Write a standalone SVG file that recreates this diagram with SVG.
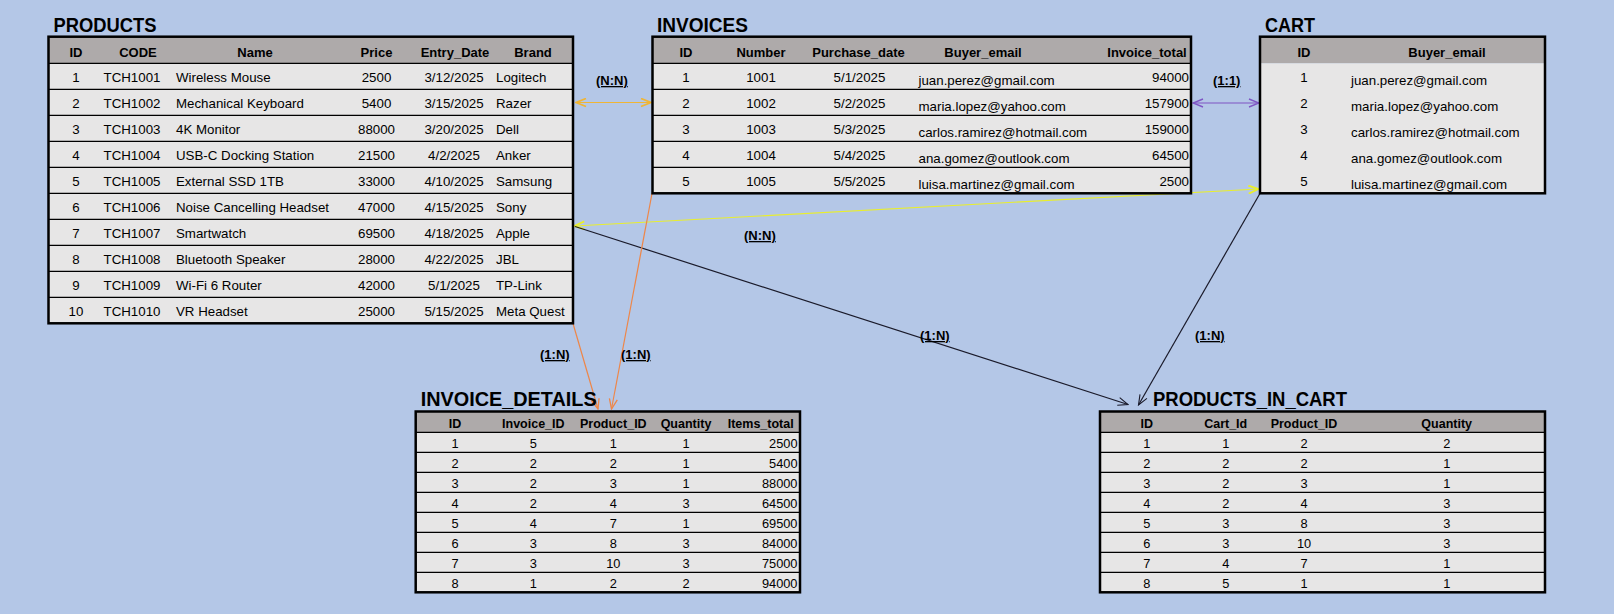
<svg xmlns="http://www.w3.org/2000/svg" width="1614" height="614" viewBox="0 0 1614 614">
<defs>
<style>
.title{font-family:"Liberation Sans",Arial,sans-serif;font-weight:bold;font-size:20px;fill:#000}
.hd{fill:#AEAAAA}
.bd{fill:#E7E6E6}
.frame{fill:none;stroke:#000;stroke-width:2.5}
.rl{stroke:#000;stroke-width:1.3}
.h{font-family:"Liberation Sans",Arial,sans-serif;font-weight:bold;font-size:13px;fill:#000;text-anchor:middle}
.d{font-family:"Liberation Sans",Arial,sans-serif;font-size:13.3px;fill:#000}
.h2{font-family:"Liberation Sans",Arial,sans-serif;font-weight:bold;font-size:12.5px;fill:#000;text-anchor:middle}
.d2{font-family:"Liberation Sans",Arial,sans-serif;font-size:12.8px;fill:#000}
.c{text-anchor:middle}
.r{text-anchor:end}
.lbl{font-family:"Liberation Sans",Arial,sans-serif;font-weight:bold;font-size:13px;fill:#000;text-decoration:underline}
.ln{fill:none;stroke-width:1.2}
</style>
<marker id="mGold" viewBox="-1 -1 12 10" markerWidth="12" markerHeight="10" refX="10" refY="4" markerUnits="userSpaceOnUse" orient="auto-start-reverse"><path d="M0,0 L10,4 L0,8" fill="none" stroke="#EFB536" stroke-width="1.8"/></marker>
<marker id="mPurple" viewBox="-1 -1 12 10" markerWidth="12" markerHeight="10" refX="10" refY="4" markerUnits="userSpaceOnUse" orient="auto-start-reverse"><path d="M0,0 L10,4 L0,8" fill="none" stroke="#7E55C4" stroke-width="1.4"/></marker>
<marker id="mYellow" viewBox="-1 -1 12 10" markerWidth="12" markerHeight="10" refX="10" refY="4" markerUnits="userSpaceOnUse" orient="auto-start-reverse"><path d="M0,0 L10,4 L0,8" fill="none" stroke="#E9EE2E" stroke-width="1.9"/></marker>
<marker id="mBlack" viewBox="-1 -1 12 10" markerWidth="12" markerHeight="10" refX="10" refY="4" markerUnits="userSpaceOnUse" orient="auto"><path d="M0,0 L10,4 L0,8" fill="none" stroke="#1a1a2a" stroke-width="1.1"/></marker>
<marker id="mOrange" viewBox="-1 -1 12 10" markerWidth="12" markerHeight="10" refX="10" refY="4" markerUnits="userSpaceOnUse" orient="auto"><path d="M0,0 L10,4 L0,8" fill="none" stroke="#EE8648" stroke-width="1.3"/></marker>
</defs>
<rect x="0" y="0" width="1614" height="614" fill="#B4C7E7"/>

<g id="connectors">
<line class="ln" x1="576" y1="102.5" x2="651" y2="102.5" stroke="#EFB536" stroke-width="2" marker-start="url(#mGold)" marker-end="url(#mGold)"/>
<line class="ln" x1="1193" y1="103" x2="1259" y2="103" stroke="#7E55C4" stroke-width="1.4" marker-start="url(#mPurple)" marker-end="url(#mPurple)"/>
<line class="ln" x1="574.5" y1="226" x2="1258.5" y2="189" stroke="#E9EE2E" stroke-width="2" marker-start="url(#mYellow)" marker-end="url(#mYellow)"/>
<line class="ln" x1="575" y1="226.5" x2="1128" y2="404.5" stroke="#1a1a2a" stroke-width="1" marker-end="url(#mBlack)"/>
<line class="ln" x1="1260.5" y1="192.5" x2="1138.5" y2="405" stroke="#1a1a2a" stroke-width="1" marker-end="url(#mBlack)"/>
<line class="ln" x1="573" y1="323.5" x2="598" y2="409" stroke="#EE8648" stroke-width="1.3" marker-end="url(#mOrange)"/>
<line class="ln" x1="652" y1="193.5" x2="611.5" y2="409" stroke="#EE8648" stroke-width="1.3" marker-end="url(#mOrange)"/>
<text class="lbl" x="596" y="85">(N:N)</text>
<text class="lbl" x="1213" y="85">(1:1)</text>
<text class="lbl" x="744" y="240">(N:N)</text>
<text class="lbl" x="920" y="340">(1:N)</text>
<text class="lbl" x="1195" y="340">(1:N)</text>
<text class="lbl" x="540" y="359">(1:N)</text>
<text class="lbl" x="621" y="359">(1:N)</text>
</g>

<g id="products">
<text class="title" x="53.5" y="31.5" textLength="103" lengthAdjust="spacingAndGlyphs">PRODUCTS</text>
<rect class="hd" x="48.5" y="36.7" width="524.5" height="26.6"/>
<rect class="bd" x="48.5" y="63.3" width="524.5" height="260"/>
<g>
<line class="rl" x1="48.5" y1="63.3" x2="573" y2="63.3"/>
<line class="rl" x1="48.5" y1="89.3" x2="573" y2="89.3"/>
<line class="rl" x1="48.5" y1="115.3" x2="573" y2="115.3"/>
<line class="rl" x1="48.5" y1="141.3" x2="573" y2="141.3"/>
<line class="rl" x1="48.5" y1="167.3" x2="573" y2="167.3"/>
<line class="rl" x1="48.5" y1="193.3" x2="573" y2="193.3"/>
<line class="rl" x1="48.5" y1="219.3" x2="573" y2="219.3"/>
<line class="rl" x1="48.5" y1="245.3" x2="573" y2="245.3"/>
<line class="rl" x1="48.5" y1="271.3" x2="573" y2="271.3"/>
<line class="rl" x1="48.5" y1="297.3" x2="573" y2="297.3"/>
</g>
<rect class="frame" x="48.5" y="36.7" width="524.5" height="286.6"/>
<text class="h" x="76" y="56.5">ID</text>
<text class="h" x="138" y="56.5">CODE</text>
<text class="h" x="255" y="56.5">Name</text>
<text class="h" x="376.5" y="56.5">Price</text>
<text class="h" x="455" y="56.5">Entry_Date</text>
<text class="h" x="533" y="56.5">Brand</text>
<g class="d">
<text class="c" x="76" y="82.3">1</text><text class="c" x="132" y="82.3">TCH1001</text><text x="176" y="82.3">Wireless Mouse</text><text class="c" x="376.5" y="82.3">2500</text><text class="c" x="454" y="82.3">3/12/2025</text><text x="496" y="82.3">Logitech</text>
<text class="c" x="76" y="108.3">2</text><text class="c" x="132" y="108.3">TCH1002</text><text x="176" y="108.3">Mechanical Keyboard</text><text class="c" x="376.5" y="108.3">5400</text><text class="c" x="454" y="108.3">3/15/2025</text><text x="496" y="108.3">Razer</text>
<text class="c" x="76" y="134.3">3</text><text class="c" x="132" y="134.3">TCH1003</text><text x="176" y="134.3">4K Monitor</text><text class="c" x="376.5" y="134.3">88000</text><text class="c" x="454" y="134.3">3/20/2025</text><text x="496" y="134.3">Dell</text>
<text class="c" x="76" y="160.3">4</text><text class="c" x="132" y="160.3">TCH1004</text><text x="176" y="160.3">USB-C Docking Station</text><text class="c" x="376.5" y="160.3">21500</text><text class="c" x="454" y="160.3">4/2/2025</text><text x="496" y="160.3">Anker</text>
<text class="c" x="76" y="186.3">5</text><text class="c" x="132" y="186.3">TCH1005</text><text x="176" y="186.3">External SSD 1TB</text><text class="c" x="376.5" y="186.3">33000</text><text class="c" x="454" y="186.3">4/10/2025</text><text x="496" y="186.3">Samsung</text>
<text class="c" x="76" y="212.3">6</text><text class="c" x="132" y="212.3">TCH1006</text><text x="176" y="212.3">Noise Cancelling Headset</text><text class="c" x="376.5" y="212.3">47000</text><text class="c" x="454" y="212.3">4/15/2025</text><text x="496" y="212.3">Sony</text>
<text class="c" x="76" y="238.3">7</text><text class="c" x="132" y="238.3">TCH1007</text><text x="176" y="238.3">Smartwatch</text><text class="c" x="376.5" y="238.3">69500</text><text class="c" x="454" y="238.3">4/18/2025</text><text x="496" y="238.3">Apple</text>
<text class="c" x="76" y="264.3">8</text><text class="c" x="132" y="264.3">TCH1008</text><text x="176" y="264.3">Bluetooth Speaker</text><text class="c" x="376.5" y="264.3">28000</text><text class="c" x="454" y="264.3">4/22/2025</text><text x="496" y="264.3">JBL</text>
<text class="c" x="76" y="290.3">9</text><text class="c" x="132" y="290.3">TCH1009</text><text x="176" y="290.3">Wi-Fi 6 Router</text><text class="c" x="376.5" y="290.3">42000</text><text class="c" x="454" y="290.3">5/1/2025</text><text x="496" y="290.3">TP-Link</text>
<text class="c" x="76" y="316.3">10</text><text class="c" x="132" y="316.3">TCH1010</text><text x="176" y="316.3">VR Headset</text><text class="c" x="376.5" y="316.3">25000</text><text class="c" x="454" y="316.3">5/15/2025</text><text x="496" y="316.3">Meta Quest</text>
</g>
</g>

<g id="invoices">
<text class="title" x="657" y="31.5" textLength="91" lengthAdjust="spacingAndGlyphs">INVOICES</text>
<rect class="hd" x="652.5" y="36.7" width="538.5" height="26.6"/>
<rect class="bd" x="652.5" y="63.3" width="538.5" height="130"/>
<line class="rl" x1="652.5" y1="63.3" x2="1191" y2="63.3"/>
<line class="rl" x1="652.5" y1="89.3" x2="1191" y2="89.3"/>
<line class="rl" x1="652.5" y1="115.3" x2="1191" y2="115.3"/>
<line class="rl" x1="652.5" y1="141.3" x2="1191" y2="141.3"/>
<line class="rl" x1="652.5" y1="167.3" x2="1191" y2="167.3"/>
<rect class="frame" x="652.5" y="36.7" width="538.5" height="156.6"/>
<text class="h" x="686" y="56.5">ID</text>
<text class="h" x="761" y="56.5">Number</text>
<text class="h" x="858.5" y="56.5">Purchase_date</text>
<text class="h" x="983" y="56.5">Buyer_email</text>
<text class="h" x="1147" y="56.5">Invoice_total</text>
<g class="d">
<text class="c" x="686" y="82.3">1</text><text class="c" x="761" y="82.3">1001</text><text class="c" x="859.5" y="82.3">5/1/2025</text><text x="918.5" y="84.8">juan.perez@gmail.com</text><text class="r" x="1189" y="82.3">94000</text>
<text class="c" x="686" y="108.3">2</text><text class="c" x="761" y="108.3">1002</text><text class="c" x="859.5" y="108.3">5/2/2025</text><text x="918.5" y="110.8">maria.lopez@yahoo.com</text><text class="r" x="1189" y="108.3">157900</text>
<text class="c" x="686" y="134.3">3</text><text class="c" x="761" y="134.3">1003</text><text class="c" x="859.5" y="134.3">5/3/2025</text><text x="918.5" y="136.8">carlos.ramirez@hotmail.com</text><text class="r" x="1189" y="134.3">159000</text>
<text class="c" x="686" y="160.3">4</text><text class="c" x="761" y="160.3">1004</text><text class="c" x="859.5" y="160.3">5/4/2025</text><text x="918.5" y="162.8">ana.gomez@outlook.com</text><text class="r" x="1189" y="160.3">64500</text>
<text class="c" x="686" y="186.3">5</text><text class="c" x="761" y="186.3">1005</text><text class="c" x="859.5" y="186.3">5/5/2025</text><text x="918.5" y="188.8">luisa.martinez@gmail.com</text><text class="r" x="1189" y="186.3">2500</text>
</g>
</g>

<g id="cart">
<text class="title" x="1265" y="31.5" textLength="50" lengthAdjust="spacingAndGlyphs">CART</text>
<rect class="hd" x="1260" y="36.7" width="285" height="26.6"/>
<rect class="bd" x="1260" y="63.3" width="285" height="130"/>
<rect class="frame" x="1260" y="36.7" width="285" height="156.6"/>
<text class="h" x="1304" y="56.5">ID</text>
<text class="h" x="1447" y="56.5">Buyer_email</text>
<g class="d">
<text class="c" x="1304" y="81.8">1</text><text x="1351" y="84.8">juan.perez@gmail.com</text>
<text class="c" x="1304" y="107.8">2</text><text x="1351" y="110.8">maria.lopez@yahoo.com</text>
<text class="c" x="1304" y="133.8">3</text><text x="1351" y="136.8">carlos.ramirez@hotmail.com</text>
<text class="c" x="1304" y="159.8">4</text><text x="1351" y="162.8">ana.gomez@outlook.com</text>
<text class="c" x="1304" y="185.8">5</text><text x="1351" y="188.8">luisa.martinez@gmail.com</text>
</g>
</g>

<g id="invoice_details">
<text class="title" x="420.7" y="406" textLength="176" lengthAdjust="spacingAndGlyphs">INVOICE_DETAILS</text>
<rect class="hd" x="415.7" y="411.5" width="384.3" height="20.8"/>
<rect class="bd" x="415.7" y="432.3" width="384.3" height="160"/>
<line class="rl" x1="415.7" y1="432.3" x2="800" y2="432.3"/>
<line class="rl" x1="415.7" y1="452.3" x2="800" y2="452.3"/>
<line class="rl" x1="415.7" y1="472.3" x2="800" y2="472.3"/>
<line class="rl" x1="415.7" y1="492.3" x2="800" y2="492.3"/>
<line class="rl" x1="415.7" y1="512.3" x2="800" y2="512.3"/>
<line class="rl" x1="415.7" y1="532.3" x2="800" y2="532.3"/>
<line class="rl" x1="415.7" y1="552.3" x2="800" y2="552.3"/>
<line class="rl" x1="415.7" y1="572.3" x2="800" y2="572.3"/>
<rect class="frame" x="415.7" y="411.5" width="384.3" height="180.8"/>
<text class="h2" x="455" y="428">ID</text>
<text class="h2" x="533.3" y="428">Invoice_ID</text>
<text class="h2" x="613.3" y="428">Product_ID</text>
<text class="h2" x="686" y="428">Quantity</text>
<text class="h2" x="760.7" y="428">Items_total</text>
<g class="d2">
<text class="c" x="455" y="447.8">1</text><text class="c" x="533.3" y="447.8">5</text><text class="c" x="613.3" y="447.8">1</text><text class="c" x="686" y="447.8">1</text><text class="r" x="797.5" y="447.8">2500</text>
<text class="c" x="455" y="467.8">2</text><text class="c" x="533.3" y="467.8">2</text><text class="c" x="613.3" y="467.8">2</text><text class="c" x="686" y="467.8">1</text><text class="r" x="797.5" y="467.8">5400</text>
<text class="c" x="455" y="487.8">3</text><text class="c" x="533.3" y="487.8">2</text><text class="c" x="613.3" y="487.8">3</text><text class="c" x="686" y="487.8">1</text><text class="r" x="797.5" y="487.8">88000</text>
<text class="c" x="455" y="507.8">4</text><text class="c" x="533.3" y="507.8">2</text><text class="c" x="613.3" y="507.8">4</text><text class="c" x="686" y="507.8">3</text><text class="r" x="797.5" y="507.8">64500</text>
<text class="c" x="455" y="527.8">5</text><text class="c" x="533.3" y="527.8">4</text><text class="c" x="613.3" y="527.8">7</text><text class="c" x="686" y="527.8">1</text><text class="r" x="797.5" y="527.8">69500</text>
<text class="c" x="455" y="547.8">6</text><text class="c" x="533.3" y="547.8">3</text><text class="c" x="613.3" y="547.8">8</text><text class="c" x="686" y="547.8">3</text><text class="r" x="797.5" y="547.8">84000</text>
<text class="c" x="455" y="567.8">7</text><text class="c" x="533.3" y="567.8">3</text><text class="c" x="613.3" y="567.8">10</text><text class="c" x="686" y="567.8">3</text><text class="r" x="797.5" y="567.8">75000</text>
<text class="c" x="455" y="587.8">8</text><text class="c" x="533.3" y="587.8">1</text><text class="c" x="613.3" y="587.8">2</text><text class="c" x="686" y="587.8">2</text><text class="r" x="797.5" y="587.8">94000</text>
</g>
</g>

<g id="products_in_cart">
<text class="title" x="1153" y="406" textLength="194" lengthAdjust="spacingAndGlyphs">PRODUCTS_IN_CART</text>
<rect class="hd" x="1100" y="411.5" width="445" height="20.8"/>
<rect class="bd" x="1100" y="432.3" width="445" height="160"/>
<line class="rl" x1="1100" y1="432.3" x2="1545" y2="432.3"/>
<line class="rl" x1="1100" y1="452.3" x2="1545" y2="452.3"/>
<line class="rl" x1="1100" y1="472.3" x2="1545" y2="472.3"/>
<line class="rl" x1="1100" y1="492.3" x2="1545" y2="492.3"/>
<line class="rl" x1="1100" y1="512.3" x2="1545" y2="512.3"/>
<line class="rl" x1="1100" y1="532.3" x2="1545" y2="532.3"/>
<line class="rl" x1="1100" y1="552.3" x2="1545" y2="552.3"/>
<line class="rl" x1="1100" y1="572.3" x2="1545" y2="572.3"/>
<rect class="frame" x="1100" y="411.5" width="445" height="180.8"/>
<text class="h2" x="1146.7" y="428">ID</text>
<text class="h2" x="1225.7" y="428">Cart_Id</text>
<text class="h2" x="1304" y="428">Product_ID</text>
<text class="h2" x="1446.7" y="428">Quantity</text>
<g class="d2">
<text class="c" x="1146.7" y="447.8">1</text><text class="c" x="1225.7" y="447.8">1</text><text class="c" x="1304" y="447.8">2</text><text class="c" x="1446.7" y="447.8">2</text>
<text class="c" x="1146.7" y="467.8">2</text><text class="c" x="1225.7" y="467.8">2</text><text class="c" x="1304" y="467.8">2</text><text class="c" x="1446.7" y="467.8">1</text>
<text class="c" x="1146.7" y="487.8">3</text><text class="c" x="1225.7" y="487.8">2</text><text class="c" x="1304" y="487.8">3</text><text class="c" x="1446.7" y="487.8">1</text>
<text class="c" x="1146.7" y="507.8">4</text><text class="c" x="1225.7" y="507.8">2</text><text class="c" x="1304" y="507.8">4</text><text class="c" x="1446.7" y="507.8">3</text>
<text class="c" x="1146.7" y="527.8">5</text><text class="c" x="1225.7" y="527.8">3</text><text class="c" x="1304" y="527.8">8</text><text class="c" x="1446.7" y="527.8">3</text>
<text class="c" x="1146.7" y="547.8">6</text><text class="c" x="1225.7" y="547.8">3</text><text class="c" x="1304" y="547.8">10</text><text class="c" x="1446.7" y="547.8">3</text>
<text class="c" x="1146.7" y="567.8">7</text><text class="c" x="1225.7" y="567.8">4</text><text class="c" x="1304" y="567.8">7</text><text class="c" x="1446.7" y="567.8">1</text>
<text class="c" x="1146.7" y="587.8">8</text><text class="c" x="1225.7" y="587.8">5</text><text class="c" x="1304" y="587.8">1</text><text class="c" x="1446.7" y="587.8">1</text>
</g>
</g>
</svg>
